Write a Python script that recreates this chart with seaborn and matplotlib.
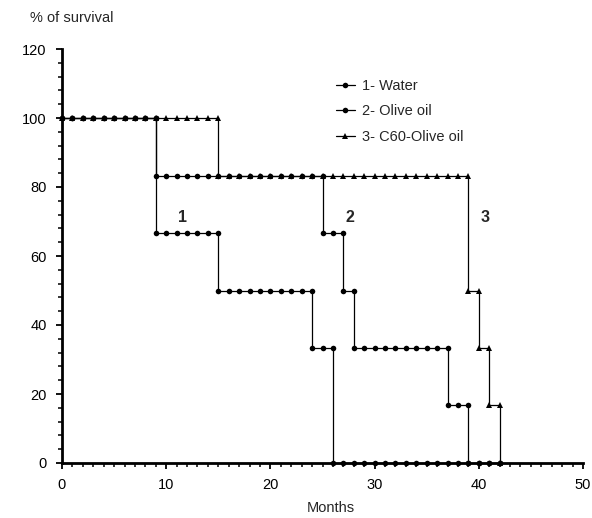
import matplotlib
matplotlib.use("Agg")
import matplotlib.pyplot as plt
from matplotlib.lines import Line2D
from matplotlib.ticker import MultipleLocator
import seaborn as sns
import pandas as pd

# ---- data (step functions: month where level starts, survival level %) ----
water_times = [0, 9, 15, 24, 26]
water_levels = [100, 66.7, 50, 33.3, 0]
olive_times = [0, 9, 25, 27, 28, 37, 39]
olive_levels = [100, 83.3, 66.7, 50, 33.3, 16.7, 0]
c60_times = [0, 15, 39, 40, 41, 42]
c60_levels = [100, 83.3, 50, 33.3, 16.7, 0]
series_names = ["1- Water", "2- Olive oil", "3- C60-Olive oil"]
curve_labels = ["1", "2", "3"]
label_x = [11.6, 27.6, 40.6]
label_y = [69, 69, 69]
end_month = 42

sns.set_theme(style="ticks")
plt.rcParams["font.family"] = ["Liberation Sans", "DejaVu Sans"]


def expand(times, levels, end):
    rows = []
    for i, (t, lv) in enumerate(zip(times, levels)):
        t_next = times[i + 1] if i + 1 < len(times) else end
        for m in range(t, t_next + 1):
            rows.append((m, lv))
    return rows


frames = []
for name, times, levels in zip(series_names,
                               [water_times, olive_times, c60_times],
                               [water_levels, olive_levels, c60_levels]):
    pts = expand(times, levels, end_month)
    df = pd.DataFrame(pts, columns=["month", "survival"])
    df["group"] = name
    frames.append(df)
data = pd.concat(frames, ignore_index=True)

fig = plt.figure(figsize=(5.92, 5.18), dpi=100)
ax = fig.add_axes([62 / 592, 1 - 463 / 518, (583 - 62) / 592, (463 - 49) / 518])

markers = ["o", "o", "^"]
msizes = [4.0, 4.0, 4.6]
for name, mk, ms in zip(series_names, markers, msizes):
    sub = data[data["group"] == name]
    sns.lineplot(data=sub, x="month", y="survival", estimator=None, sort=False,
                 color="black", linewidth=0.9, marker=mk, markersize=ms,
                 markeredgewidth=0, ax=ax, clip_on=False, legend=False)

ax.set_xlim(0, 50)
ax.set_ylim(0, 120)
ax.xaxis.set_major_locator(MultipleLocator(10))
ax.xaxis.set_minor_locator(MultipleLocator(1))
ax.yaxis.set_major_locator(MultipleLocator(20))
ax.yaxis.set_minor_locator(MultipleLocator(4))
ax.tick_params(axis="both", which="major", direction="out", length=4, width=1.3,
               labelsize=10.5, colors="black", pad=7)
ax.tick_params(axis="both", which="minor", direction="out", length=3, width=1.1,
               colors="black")
for s in ["top", "right"]:
    ax.spines[s].set_visible(False)
for s in ["left", "bottom"]:
    ax.spines[s].set_linewidth(2)
    ax.spines[s].set_color("black")

ax.set_xlabel("Months", fontsize=10.5, labelpad=3)
ax.xaxis.set_label_coords(0.515, -0.092)
ax.set_ylabel("")
fig.text(30 / 592, 1 - 18 / 518, "% of survival", fontsize=10.5, va="center", ha="left")

for txt, x, y in zip(curve_labels, label_x, label_y):
    ax.text(x, y, txt, fontsize=11.5, fontweight="bold", ha="center", va="bottom")

handles = [Line2D([0], [0], color="black", linewidth=0.9, marker=mk, markersize=ms,
                  markeredgewidth=0) for mk, ms in zip(markers, msizes)]
ax.legend(handles, series_names, loc="upper left", bbox_to_anchor=(0.5, 0.96),
          frameon=False, fontsize=10.5, handlelength=1.3, handletextpad=0.5,
          labelspacing=0.8)

fig.savefig("out.png", dpi=100, facecolor="white")
